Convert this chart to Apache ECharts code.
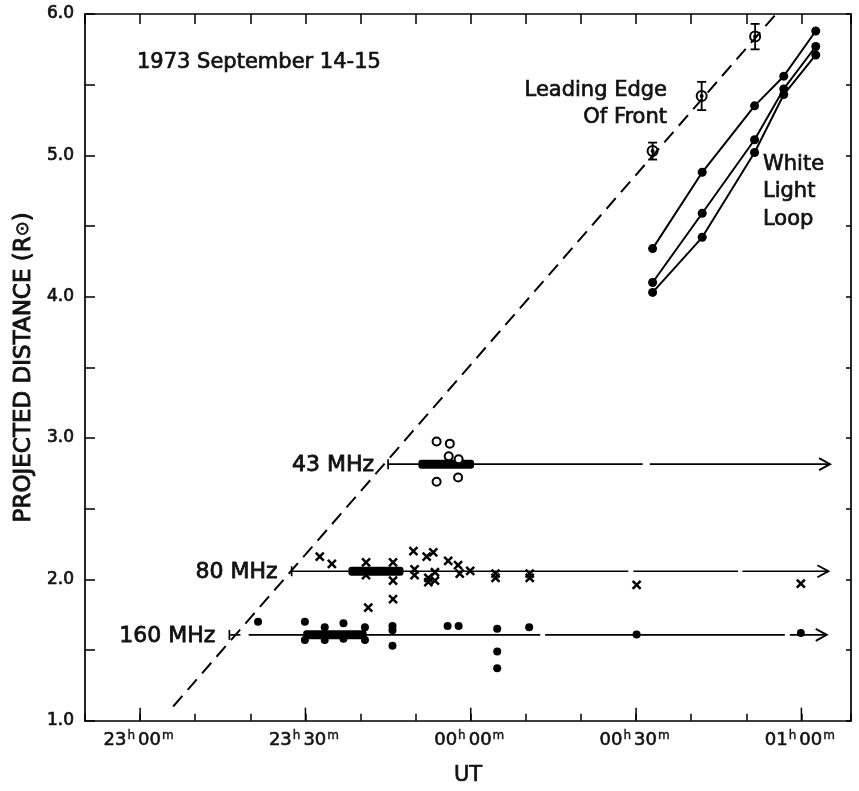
<!DOCTYPE html>
<html>
<head>
<meta charset="utf-8">
<script src="https://cdn.jsdelivr.net/npm/echarts@6/dist/echarts.min.js"></script>
<style>
html,body{margin:0;padding:0;background:#fff;}
#chart{width:859px;height:791px;}
</style>
</head>
<body>
<div id="chart"></div>
<script>
// ---- DATA (time in minutes relative to 00h00m UT; distance in solar radii) ----
const yTickValues = [1, 2, 3, 4, 5, 6];
const majorTickTimes = [-60, -30, 0, 30, 60];

// dashed "leading edge" extrapolation
const frontLine = [[-54.0, 1.10], [55.4, 6.0]];
// leading edge of front with error bars: [t, R, err]
const leadT = [33.0, 41.9, 51.6];
const leadR = [5.03, 5.42, 5.84];
const leadErr = [0.06, 0.10, 0.09];

// white light loop tracks
const loopT = [33.0, 42.0, 51.5, 56.8, 62.6];
const loopA = [4.34, 4.88, 5.35, 5.56, 5.88];
const loopB = [4.10, 4.59, 5.11, 5.47, 5.77];
const loopC = [4.03, 4.42, 5.02, 5.43, 5.71];

// radio bands
const bandNames = ['43 MHz', '80 MHz', '160 MHz'];
const bandLevel = [2.815, 2.057, 1.607];
const bandStart = [-15.0, -32.5, -43.8];
const bandEnd = [65.2, 64.9, 64.6];
const bandThickStart = [-9.5, -22.2, -30.4];
const bandThickEnd = [0.6, -12.2, -18.9];
const bandGaps = [[[31.2, 32.5]], [[28.6, 29.5], [48.5, 49.3]], [[-41.8, -40.3], [12.6, 13.5], [57.0, 57.9]]];

// 43 MHz positions (open circles)
const pts43 = [[-6.2, 2.975], [-3.8, 2.96], [-4.0, 2.87], [-2.2, 2.85], [-6.2, 2.69], [-2.3, 2.72]];
// 80 MHz positions (crosses)
const pts80 = [[-27.4, 2.16], [-25.2, 2.11], [-19.0, 2.12], [-19.0, 2.03], [-14.1, 2.12], [-14.1, 1.99],
  [-14.1, 1.86], [-18.6, 1.80], [-10.4, 2.20], [-10.2, 2.07], [-10.2, 2.03], [-8.0, 2.16], [-6.8, 2.19],
  [-7.7, 2.01], [-7.7, 1.98], [-6.5, 2.05], [-6.5, 1.99], [-4.1, 2.13], [-2.3, 2.10], [-2.0, 2.04],
  [-0.1, 2.06], [4.5, 2.04], [4.5, 2.01], [10.7, 2.04], [10.7, 2.01], [30.1, 1.96], [59.9, 1.97]];
// 160 MHz positions (dots)
const pts160 = [[-38.6, 1.70], [-30.1, 1.70], [-30.1, 1.57], [-26.5, 1.66], [-26.5, 1.57], [-23.1, 1.69],
  [-23.1, 1.58], [-19.2, 1.66], [-19.2, 1.57], [-14.2, 1.67], [-14.2, 1.64], [-14.2, 1.53], [-4.2, 1.67],
  [-2.2, 1.67], [4.8, 1.65], [4.8, 1.49], [4.8, 1.37], [10.6, 1.66], [30.1, 1.61], [59.9, 1.62]];

// ---- CHART ----
const FONT = '"DejaVu Sans", "Liberation Sans", sans-serif';
const INK = '#111';
const chart = echarts.init(document.getElementById('chart'), null, {renderer: 'canvas'});

function timeLabel(v) {
  if (Math.round(v) % 30 !== 0) return '';
  let total = ((24 * 60 + Math.round(v)) % (24 * 60));
  const h = Math.floor(total / 60), m = total % 60;
  const p = n => (n < 10 ? '0' : '') + n;
  return p(h) + '{s|h}' + p(m) + '{s|m}';
}

function renderMajorTick(params, api) {
  const p = api.coord([api.value(0), 1]);
  return {type: 'line', shape: {x1: p[0], y1: p[1], x2: p[0], y2: p[1] - 13},
    style: {stroke: '#000', lineWidth: 1.5}};
}

function renderLead(params, api) {
  const t = api.value(0), r = api.value(1), e = api.value(2);
  const c = api.coord([t, r]);
  const top = api.coord([t, r + e]);
  const bot = api.coord([t, r - e]);
  const st = {stroke: '#000', lineWidth: 1.8};
  return {type: 'group', children: [
    {type: 'line', shape: {x1: c[0], y1: top[1], x2: c[0], y2: bot[1]}, style: st},
    {type: 'line', shape: {x1: c[0] - 4.5, y1: top[1], x2: c[0] + 4.5, y2: top[1]}, style: st},
    {type: 'line', shape: {x1: c[0] - 4.5, y1: bot[1], x2: c[0] + 4.5, y2: bot[1]}, style: st},
    {type: 'circle', shape: {cx: c[0], cy: c[1], r: 5}, style: {stroke: '#000', lineWidth: 2, fill: 'rgba(255,255,255,0)'}},
    {type: 'circle', shape: {cx: c[0], cy: c[1], r: 2}, style: {fill: '#000'}}
  ]};
}

function renderBand(params, api) {
  const i = api.value(5);
  const v = api.value(2);
  const s = api.coord([api.value(0), v]);
  const e = api.coord([api.value(1), v]);
  const y = s[1];
  const st = {stroke: '#000', lineWidth: 1.7};
  const bounds = [api.value(0)];
  bandGaps[i].forEach(g => { bounds.push(g[0], g[1]); });
  bounds.push(api.value(1));
  const children = [];
  for (let k = 0; k < bounds.length; k += 2) {
    const x1 = api.coord([bounds[k], v])[0];
    const x2 = api.coord([bounds[k + 1], v])[0];
    children.push({type: 'line', shape: {x1: x1, y1: y, x2: x2, y2: y}, style: st});
  }
  children.push({type: 'line', shape: {x1: s[0], y1: y - 5, x2: s[0], y2: y + 5}, style: st});
  children.push({type: 'polyline', shape: {points: [[e[0] - 11, y - 6], [e[0], y], [e[0] - 11, y + 6]]}, style: {stroke: '#000', lineWidth: 1.9, fill: null}});
  const a = api.coord([api.value(3), v]);
  const b = api.coord([api.value(4), v]);
  children.push({type: 'rect', shape: {x: a[0], y: y - 4.5, width: b[0] - a[0], height: 9, r: 3}, style: {fill: '#000'}});
  children.push({type: 'text', style: {text: bandNames[i], x: s[0] - 14, y: y + 1, align: 'right', verticalAlign: 'middle',
    font: '22px ' + FONT, fill: INK, stroke: INK, lineWidth: 0.8}});
  return {type: 'group', children: children};
}

function annot(text, x, y, align) {
  return {type: 'text', silent: true, style: {text: text, x: x, y: y, align: align, verticalAlign: 'middle',
    font: '21px ' + FONT, fill: INK, stroke: INK, lineWidth: 0.7}};
}

const xCommon = {type: 'value', min: -70, max: 69, interval: 10, splitLine: {show: false},
  axisLine: {show: true, onZero: false, lineStyle: {color: '#000', width: 1.7}}};
const yCommon = {type: 'value', min: 1, max: 6, interval: 0.5, splitLine: {show: false},
  axisLine: {show: true, onZero: false, lineStyle: {color: '#000', width: 1.7}}};

const option = {
  animation: false,
  backgroundColor: '#fff',
  grid: {left: 85, top: 14, width: 766, height: 708, containLabel: false},
  xAxis: [
    Object.assign({}, xCommon, {position: 'bottom',
      name: 'UT', nameLocation: 'middle', nameGap: 44,
      nameTextStyle: {fontFamily: FONT, fontSize: 21, color: INK, textBorderColor: INK, textBorderWidth: 0.7},
      axisTick: {show: true, inside: true, length: 7, lineStyle: {color: '#000', width: 1.5}},
      axisLabel: {show: true, margin: 9, formatter: timeLabel, fontFamily: FONT, fontSize: 18, color: INK,
        textBorderColor: INK, textBorderWidth: 0.6,
        showMinLabel: true, showMaxLabel: true, hideOverlap: false,
        rich: {s: {fontFamily: FONT, fontSize: 12, color: INK, textBorderColor: INK, textBorderWidth: 0.4, padding: [0, 3, 9, 1]}}}
    }),
    Object.assign({}, xCommon, {position: 'top',
      axisTick: {show: true, inside: true, length: 10, lineStyle: {color: '#000', width: 1.5}},
      axisLabel: {show: false}})
  ],
  yAxis: [
    Object.assign({}, yCommon, {position: 'left',
      name: 'PROJECTED DISTANCE (R{sub|⊙})', nameLocation: 'middle', nameGap: 46,
      nameTextStyle: {fontFamily: FONT, fontSize: 23, color: INK, textBorderColor: INK, textBorderWidth: 0.9,
        rich: {sub: {fontFamily: FONT, fontSize: 18, color: INK, textBorderColor: INK, textBorderWidth: 0.6}}},
      axisTick: {show: true, inside: true, length: 10, lineStyle: {color: '#000', width: 1.5}},
      axisLabel: {show: true, margin: 11, fontFamily: FONT, fontSize: 17, color: INK,
        textBorderColor: INK, textBorderWidth: 0.7,
        formatter: v => (yTickValues.indexOf(v) >= 0 ? v.toFixed(1) : '')}
    }),
    Object.assign({}, yCommon, {position: 'right',
      axisTick: {show: true, inside: true, length: 5, lineStyle: {color: '#000', width: 1.5}},
      axisLabel: {show: false}})
  ],
  graphic: [
    annot('1973 September 14-15', 137, 63, 'left'),
    annot('Leading Edge', 667, 91, 'right'),
    annot('Of Front', 667, 118, 'right'),
    annot('White', 763, 165, 'left'),
    annot('Light', 763, 192, 'left'),
    annot('Loop', 763, 220, 'left')
  ],
  series: [
    {type: 'custom', name: 'majorTicks', silent: true, xAxisIndex: 0, yAxisIndex: 0, renderItem: renderMajorTick,
      data: majorTickTimes.map(t => [t]), z: 5},
    {type: 'line', name: 'front', silent: true, data: frontLine, showSymbol: false, symbol: 'none',
      lineStyle: {color: '#000', width: 2, type: [14, 8]}, z: 2},
    {type: 'custom', name: 'lead', silent: true, renderItem: renderLead,
      data: leadT.map((t, i) => [t, leadR[i], leadErr[i]]), z: 4},
    {type: 'line', name: 'loopA', silent: true, data: loopT.map((t, i) => [t, loopA[i]]), symbol: 'circle', symbolSize: 9,
      itemStyle: {color: '#000'}, lineStyle: {color: '#000', width: 2}},
    {type: 'line', name: 'loopB', silent: true, data: loopT.map((t, i) => [t, loopB[i]]), symbol: 'circle', symbolSize: 9,
      itemStyle: {color: '#000'}, lineStyle: {color: '#000', width: 2}},
    {type: 'line', name: 'loopC', silent: true, data: loopT.map((t, i) => [t, loopC[i]]), symbol: 'circle', symbolSize: 9,
      itemStyle: {color: '#000'}, lineStyle: {color: '#000', width: 2}},
    {type: 'custom', name: 'bands', silent: true, renderItem: renderBand,
      data: bandLevel.map((v, i) => [bandStart[i], bandEnd[i], v, bandThickStart[i], bandThickEnd[i], i]), z: 3},
    {type: 'scatter', name: '43 MHz', silent: true, data: pts43, symbol: 'emptyCircle', symbolSize: 8,
      itemStyle: {color: '#000', borderColor: '#000', borderWidth: 1.7, opacity: 1}, z: 6},
    {type: 'scatter', name: '80 MHz', silent: true, data: pts80, symbol: 'path://M0,0L10,10M10,0L0,10', symbolSize: 8,
      itemStyle: {color: 'rgba(0,0,0,0)', borderColor: '#000', borderWidth: 2.5, opacity: 1}, z: 6},
    {type: 'scatter', name: '160 MHz', silent: true, data: pts160, symbol: 'circle', symbolSize: 8,
      itemStyle: {color: '#000', opacity: 1}, z: 6}
  ]
};
chart.setOption(option);
</script>
</body>
</html>
